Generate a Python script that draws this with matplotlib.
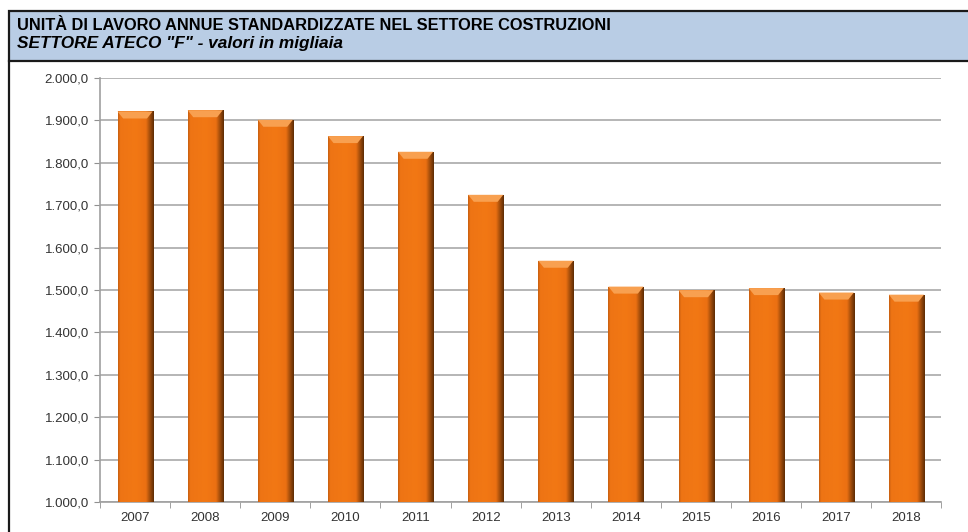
import matplotlib
matplotlib.use("Agg")
import matplotlib.pyplot as plt
import numpy as np
from matplotlib.patches import Rectangle, Polygon
from matplotlib.lines import Line2D
from matplotlib.colors import LinearSegmentedColormap
from matplotlib.ticker import FuncFormatter, MultipleLocator, FixedLocator

years = ["2007", "2008", "2009", "2010", "2011", "2012", "2013", "2014", "2015", "2016", "2017", "2018"]
values = [1921.0, 1924.0, 1901.5, 1863.0, 1826.0, 1724.5, 1569.0, 1508.0, 1499.5, 1504.5, 1494.0, 1489.0]
title_line1 = "UNITÀ DI LAVORO ANNUE STANDARDIZZATE NEL SETTORE COSTRUZIONI"
title_line2 = 'SETTORE ATECO "F" - valori in migliaia'

plt.rcParams['font.family'] = ['Liberation Sans', 'DejaVu Sans']

W, H = 968, 532
fig = plt.figure(figsize=(W / 100, H / 100), dpi=100)
fig.patch.set_facecolor("white")

# header band
hdr = Rectangle((9 / W, 1 - 61 / H), 1.2, 50 / H, transform=fig.transFigure,
                facecolor="#B9CDE5", edgecolor="#1a1a1a", lw=1.6, zorder=5)
fig.add_artist(hdr)
fig.add_artist(Line2D([9 / W, 9 / W], [0, 1 - 61 / H], transform=fig.transFigure,
                      color="#1a1a1a", lw=1.6))
fig.text(17 / W, 1 - 25 / H, title_line1, fontsize=11.8, fontweight="bold",
         va="center", ha="left", color="black", zorder=6)
fig.text(17 / W, 1 - 44 / H, title_line2, fontsize=12.4, fontweight="bold",
         style="italic", va="center", ha="left", color="black", zorder=6)

ax = fig.add_axes([100 / W, 1 - 502 / H, (941.5 - 100) / W, (502 - 78) / H])
x = np.arange(len(years))
bars = ax.bar(x, values, width=0.5, color="#F07513", zorder=3, edgecolor="none")

ax.set_ylim(1000, 2000)
ax.set_xlim(-0.5, len(years) - 0.5)
ax.yaxis.set_major_locator(MultipleLocator(100))

def fmt(v, pos):
    s = f"{v:,.1f}"
    return s.replace(",", "X").replace(".", ",").replace("X", ".")

ax.yaxis.set_major_formatter(FuncFormatter(fmt))
ax.set_xticks(x)
ax.set_xticklabels(years)
ax.xaxis.set_minor_locator(FixedLocator(np.arange(-0.5, len(years), 1.0)))
ax.tick_params(axis="x", which="major", length=0, labelsize=9.5, pad=7)
ax.tick_params(axis="x", which="minor", length=4, color="#909090", direction="out")
ax.tick_params(axis="y", which="major", length=4, color="#909090", labelsize=9.5, pad=4)
for lbl in ax.get_xticklabels() + ax.get_yticklabels():
    lbl.set_color("#333333")

ax.grid(axis="y", color="#B0B0B0", lw=1.3, zorder=0)
ax.set_axisbelow(True)
for s in ["top", "right"]:
    ax.spines[s].set_visible(False)
for s in ["left", "bottom"]:
    ax.spines[s].set_color("#A0A0A0")
    ax.spines[s].set_linewidth(1.2)

# shading of the bars (horizontal gradient + top bevel)
cmap = LinearSegmentedColormap.from_list("bar", [
    (0.0, "#C65E10"), (0.06, "#EE7414"), (0.5, "#F27814"), (0.78, "#EC7012"),
    (0.88, "#A8500C"), (1.0, "#5E2C04")])
grad = np.linspace(0, 1, 128).reshape(1, -1)
ppd = ax.get_window_extent().height / 1000.0  # pixels per data unit
for b in bars:
    x0, w, h = b.get_x(), b.get_width(), b.get_height()
    y0 = b.get_y()
    im = ax.imshow(grad, cmap=cmap, aspect="auto", extent=(x0, x0 + w, 1000, y0 + h),
                   zorder=3, interpolation="bilinear")
    im.set_clip_path(b)
    bev = 7 / ppd
    dx = w * 0.16
    top = y0 + h
    poly = Polygon([(x0, top), (x0 + w, top), (x0 + w - dx, top - bev), (x0 + dx, top - bev)],
                   closed=True, facecolor="#F8A050", edgecolor="none", zorder=4)
    ax.add_patch(poly)
    b.set_edgecolor("#D9B9A0")
    b.set_linewidth(0.6)
    b.set_zorder(2.9)

fig.savefig("out.png", dpi=100)
